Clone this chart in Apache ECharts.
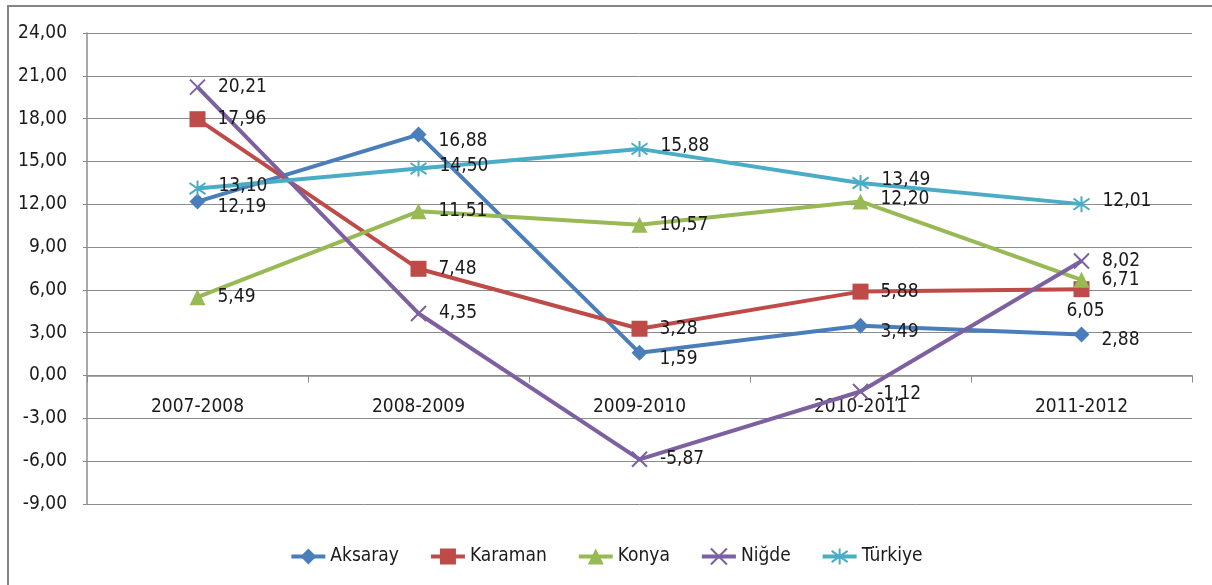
<!DOCTYPE html>
<html>
<head>
<meta charset="utf-8">
<script src="https://cdn.jsdelivr.net/npm/echarts@6/dist/echarts.min.js"></script>
<style>
  html, body { margin: 0; padding: 0; background: #fff; }
  #myChart { width: 1212px; height: 585px; }
</style>
</head>
<body>
<div id="myChart"></div>
<script>
var categories = ["2007-2008", "2008-2009", "2009-2010", "2010-2011", "2011-2012"];
var aksaray = [12.19, 16.88, 1.59, 3.49, 2.88];
var karaman = [17.96, 7.48, 3.28, 5.88, 6.05];
var konya = [5.49, 11.51, 10.57, 12.20, 6.71];
var nigde = [20.21, 4.35, -5.87, -1.12, 8.02];
var turkiye = [13.10, 14.50, 15.88, 13.49, 12.01];

var FONT = "'Liberation Sans Narrow', 'DejaVu Sans Condensed', sans-serif";
var crossPath = "path://M0,0L10,10M10,0L0,10";
var starPath = "path://M0,1.5L10,8.5M10,1.5L0,8.5M5,0L5,10";

function fmt(v) {
  return v.toFixed(2).replace(".", ",");
}

function makeSeries(name, values, color, symbol, size, stroked) {
  return {
    name: name,
    type: "line",
    data: values,
    symbol: symbol,
    symbolSize: size,
    showAllSymbol: true,
    lineStyle: { color: color, width: 4 },
    itemStyle: stroked
      ? { color: color, borderColor: color, borderWidth: 2 }
      : { color: color },
    label: {
      show: true,
      position: "right",
      distance: 12,
      color: "#1a1a1a",
      fontFamily: FONT,
      fontSize: 19,
      formatter: function (p) { return fmt(p.value); }
    },
    emphasis: { disabled: true },
    animation: false
  };
}

var myChart = echarts.init(document.getElementById("myChart"));
var option;

var sAksaray = makeSeries("Aksaray", aksaray, "#4a7ebb", "diamond", 16, false);
var sKaraman = makeSeries("Karaman", karaman, "#be4b48", "rect", 16, false);
var sKonya = makeSeries("Konya", konya, "#98b954", "triangle", 16, false);
var sNigde = makeSeries("Niğde", nigde, "#7d60a0", crossPath, 15, true);
var sTurkiye = makeSeries("Türkiye", turkiye, "#4bacc6", starPath, 16, true);

// a few labels sit off to the side in the original
sAksaray.label.offset = [0, 6];
sTurkiye.label.offset = [0, -3];
sKaraman.data = karaman.map(function (v, i) {
  return i === 4 ? { value: v, label: { position: "bottom", distance: 4, offset: [4, 0] } } : v;
});
sNigde.data = nigde.map(function (v, i) {
  return i === 3 ? { value: v, label: { offset: [-4, 3] } } : v;
});
sKonya.data = konya.map(function (v, i) {
  return i === 3 ? { value: v, label: { offset: [0, -2] } } : v;
});

option = {
  backgroundColor: "#ffffff",
  textStyle: { fontFamily: FONT },
  graphic: [
    {
      type: "rect",
      shape: { x: 8, y: 6, width: 1400, height: 800 },
      style: { fill: "none", stroke: "#858585", lineWidth: 2 },
      silent: true,
      z: -1
    }
  ],
  grid: { left: 87, right: 20, top: 33, bottom: 81, containLabel: false },
  legend: {
    bottom: 14,
    left: "center",
    itemWidth: 34,
    itemHeight: 20,
    itemGap: 30,
    lineStyle: { width: 4 },
    textStyle: { fontFamily: FONT, fontSize: 19, color: "#1a1a1a" },
    data: ["Aksaray", "Karaman", "Konya", "Niğde", "Türkiye"]
  },
  xAxis: {
    type: "category",
    data: categories,
    boundaryGap: true,
    axisLine: { onZero: true, lineStyle: { color: "#8c8c8c", width: 1.5 } },
    axisTick: { show: true, length: 7, lineStyle: { color: "#8c8c8c" } },
    axisLabel: { color: "#1a1a1a", fontFamily: FONT, fontSize: 19, margin: -106 },
    splitLine: { show: false }
  },
  yAxis: {
    type: "value",
    min: -9,
    max: 24,
    interval: 3,
    axisLine: { show: true, lineStyle: { color: "#8c8c8c", width: 1.5 } },
    axisTick: { show: true, length: 4, inside: false, lineStyle: { color: "#8c8c8c" } },
    axisLabel: {
      color: "#1a1a1a",
      fontFamily: FONT,
      fontSize: 19,
      margin: 20,
      formatter: function (v) { return fmt(v); }
    },
    splitLine: { show: true, lineStyle: { color: "#8c8c8c", width: 1 } }
  },
  series: [sAksaray, sKaraman, sKonya, sNigde, sTurkiye]
};

option && myChart.setOption(option);
</script>
</body>
</html>
